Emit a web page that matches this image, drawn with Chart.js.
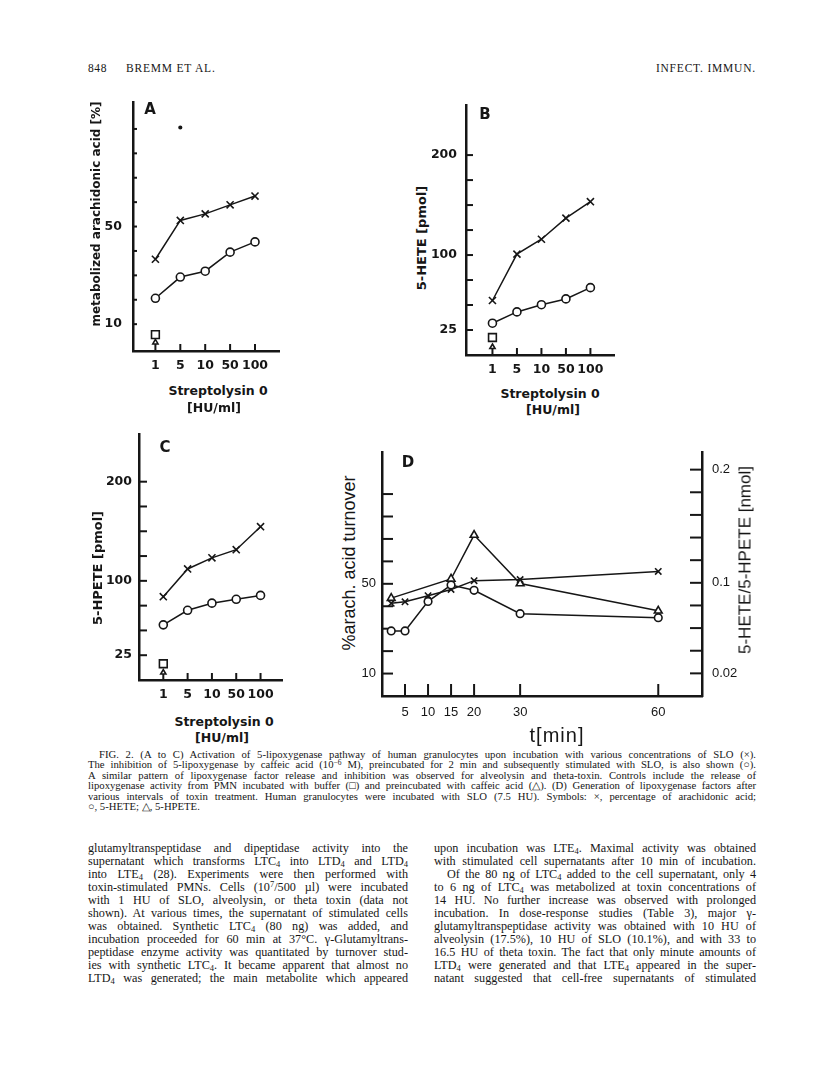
<!DOCTYPE html>
<html>
<head>
<meta charset="utf-8">
<title>Fig. 2 - 5-lipoxygenase</title>
<script src="https://cdn.jsdelivr.net/npm/chart.js@4.4.1/dist/chart.umd.min.js"></script>
<style>
  html, body { margin: 0; padding: 0; background: #fff; }
  #page { position: relative; width: 816px; height: 1082px; overflow: hidden; background: #fff; color: #161616; }
  canvas { position: absolute; }
  .txt { position: absolute; white-space: nowrap; line-height: 1; }
  .fig { font-family: "DejaVu Sans", sans-serif; font-weight: bold; font-size: 12.5px; }
  .figD { font-family: "Liberation Sans", Arial, sans-serif; }
  .mid { transform: translate(-50%, -50%); }
  .rot { transform: translate(-50%, -50%) rotate(-90deg); }
  .serif { font-family: "Liberation Serif", "Times New Roman", serif; }
  .cap { font-size: 10.7px; }
  .body { font-size: 12.2px; }
  sub, sup { font-size: 70%; line-height: 0; }
  sub { vertical-align: -0.25em; }
  sup { vertical-align: 0.45em; }
</style>
</head>
<body>
<div id="page">
  <div class="txt serif" style="left:88px;top:63px;font-size:11.5px;letter-spacing:0.6px">848</div>
  <div class="txt serif" style="left:126px;top:63px;font-size:11.5px;letter-spacing:0.8px">BREMM ET AL.</div>
  <div class="txt serif" style="right:60px;top:63px;font-size:11.5px;letter-spacing:0.8px">INFECT. IMMUN.</div>

  <canvas id="chartA" width="187" height="286" style="left:100px;top:95px"></canvas>
  <canvas id="chartB" width="192" height="287" style="left:430px;top:98px"></canvas>
  <canvas id="chartC" width="190" height="283" style="left:100px;top:427px"></canvas>
  <canvas id="chartD" width="382" height="280" style="left:360px;top:446px"></canvas>

  <!-- panel letters -->
  <div class="txt fig mid" style="left:150px;top:109px;font-size:15px">A</div>
  <div class="txt fig mid" style="left:485px;top:114px;font-size:15px">B</div>
  <div class="txt fig mid" style="left:165px;top:447px;font-size:15px">C</div>
  <div class="txt fig mid" style="left:408px;top:462px;font-size:15px">D</div>

  <!-- axis titles -->
  <div class="txt fig rot" style="left:96px;top:214px;font-size:12px">metabolized arachidonic acid [%]</div>
  <div class="txt fig mid" style="left:218px;top:391px">Streptolysin 0</div>
  <div class="txt fig mid" style="left:214px;top:408px">[HU/ml]</div>

  <div class="txt fig rot" style="left:421px;top:238px;font-size:13px">5-HETE [pmol]</div>
  <div class="txt fig mid" style="left:550px;top:394px">Streptolysin 0</div>
  <div class="txt fig mid" style="left:553px;top:410px">[HU/ml]</div>

  <div class="txt fig rot" style="left:97px;top:568px;font-size:13px">5-HPETE [pmol]</div>
  <div class="txt fig mid" style="left:224px;top:722px">Streptolysin 0</div>
  <div class="txt fig mid" style="left:222px;top:738px">[HU/ml]</div>

  <div class="txt figD rot" style="left:349px;top:563px;font-size:18px">%arach. acid turnover</div>
  <div class="txt figD rot" style="left:745px;top:560px;font-size:17px">5-HETE/5-HPETE [nmol]</div>
  <div class="txt figD mid" style="left:557px;top:735px;font-size:20px;letter-spacing:1px">t[min]</div>
</div>

<script>
// ---- data ----
const doses = ['1', '5', '10', '50', '100'];          // Streptolysin O, HU/ml
const dosePos = [1, 2, 3, 4, 5];

// A: metabolized arachidonic acid [%]
const sloA = [36.6, 52.5, 55.2, 58.9, 62.5];
const caffeicA = [20.6, 29.3, 31.7, 39.5, 43.7];
const bufferA = [5.7];
const caffeicCtrlA = [2.5];
const speckA = [90.6];   // stray dot above the 5 HU column
const ticksA = [10, 20, 30, 40, 50, 60, 70, 80, 90];
const labelsA = [10, 50];

// B: 5-HETE [pmol]
const sloB = [54.5, 100.9, 115.8, 136.9, 153.4];
const caffeicB = [31.8, 43.1, 50.3, 56.1, 67.4];
const bufferB = [17.5];
const caffeicCtrlB = [8];

// C: 5-HPETE [pmol]
const sloC = [84, 112, 123.2, 131.4, 154.6];
const caffeicC = [55.6, 70.3, 77.5, 81.4, 85.3];
const bufferC = [16.4];
const caffeicCtrlC = [7.5];

const ticksBC = [25, 50, 75, 100, 125, 150, 175, 200];
const labelsBC = [25, 100, 200];

// D: time course
const timesD = [2, 5, 10, 15, 20, 30, 60];
const arachD = [41.3, 42.0, 44.7, 47.5, 51.4, 51.9, 55.5];        // % arach. acid turnover
const heteD = [0.0575, 0.0575, 0.0836, 0.098, 0.0934, 0.0727, 0.0692]; // nmol
const hpeteTimesD = [2, 15, 20, 30, 60];
const hpeteD = [0.0865, 0.1034, 0.1422, 0.0994, 0.0753];          // nmol
const tickTimesD = [5, 10, 15, 20, 30, 60];
const ticksDLeft = [10, 20, 30, 40, 50, 60, 70, 80, 90];
const labelsDLeft = [10, 50];
const ticksDRight = [0.02, 0.04, 0.06, 0.08, 0.1, 0.12, 0.14, 0.16, 0.18, 0.2];
const labelsDRight = [0.02, 0.1, 0.2];

// ---- caption and running text ----
const captionLines = [
  'FIG. 2. (A to C) Activation of 5-lipoxygenase pathway of human granulocytes upon incubation with various concentrations of SLO (×).',
  'The inhibition of 5-lipoxygenase by caffeic acid (10<sup>−6</sup> M), preincubated for 2 min and subsequently stimulated with SLO, is also shown (○).',
  'A similar pattern of lipoxygenase factor release and inhibition was observed for alveolysin and theta-toxin. Controls include the release of',
  'lipoxygenase activity from PMN incubated with buffer (□) and preincubated with caffeic acid (△). (D) Generation of lipoxygenase factors after',
  'various intervals of toxin treatment. Human granulocytes were incubated with SLO (7.5 HU). Symbols: ×, percentage of arachidonic acid;',
  '○, 5-HETE; △, 5-HPETE.'
];
const leftLines = [
  'glutamyltranspeptidase and dipeptidase activity into the',
  'supernatant which transforms LTC<sub>4</sub> into LTD<sub>4</sub> and LTD<sub>4</sub>',
  'into LTE<sub>4</sub> (28). Experiments were then performed with',
  'toxin-stimulated PMNs. Cells (10<sup>7</sup>/500 µl) were incubated',
  'with 1 HU of SLO, alveolysin, or theta toxin (data not',
  'shown). At various times, the supernatant of stimulated cells',
  'was obtained. Synthetic LTC<sub>4</sub> (80 ng) was added, and',
  'incubation proceeded for 60 min at 37°C. γ-Glutamyltrans-',
  'peptidase enzyme activity was quantitated by turnover stud-',
  'ies with synthetic LTC<sub>4</sub>. It became apparent that almost no',
  'LTD<sub>4</sub> was generated; the main metabolite which appeared'
];
const rightLines = [
  'upon incubation was LTE<sub>4</sub>. Maximal activity was obtained',
  'with stimulated cell supernatants after 10 min of incubation.',
  'Of the 80 ng of LTC<sub>4</sub> added to the cell supernatant, only 4',
  'to 6 ng of LTC<sub>4</sub> was metabolized at toxin concentrations of',
  '14 HU. No further increase was observed with prolonged',
  'incubation. In dose-response studies (Table 3), major γ-',
  'glutamyltranspeptidase activity was obtained with 10 HU of',
  'alveolysin (17.5%), 10 HU of SLO (10.1%), and with 33 to',
  '16.5 HU of theta toxin. The fact that only minute amounts of',
  'LTD<sub>4</sub> were generated and that LTE<sub>4</sub> appeared in the super-',
  'natant suggested that cell-free supernatants of stimulated'
];

const page = document.getElementById('page');

// each printed line is placed on its own and spread to the column width
function placeLines(lines, left, width, top0, step, cls, indents, lastFree) {
  lines.forEach((html, i) => {
    const el = document.createElement('div');
    el.className = 'txt serif ' + cls;
    el.innerHTML = html;
    const ind = indents[i] || 0;
    el.style.left = (left + ind) + 'px';
    el.style.top = (top0 + i * step) + 'px';
    page.appendChild(el);
    if (lastFree.includes(i)) return;
    const natural = el.getBoundingClientRect().width;
    const gaps = (el.textContent.match(/ /g) || []).length;
    if (gaps) el.style.wordSpacing = ((width - ind - natural) / gaps) + 'px';
  });
}
placeLines(captionLines, 88, 668, 748.5, 10.5, 'cap', { 0: 11 }, [5]);
placeLines(leftLines, 88, 320, 841.5, 13, 'body', {}, []);
placeLines(rightLines, 434, 322, 841.5, 13, 'body', { 2: 13 }, []);

// ---- charts ----
const INK = '#161616';
const boldTick = { family: 'DejaVu Sans', weight: 'bold', size: 12.5 };
const plainTick = { family: 'Liberation Sans', size: 13 };

// short tick marks pointing into the plot, at the scale's own tick values
const inwardTicks = {
  id: 'inwardTicks',
  beforeDatasetsDraw(chart, args, opts) {
    const ctx = chart.ctx;
    const area = chart.chartArea;
    ctx.save();
    ctx.strokeStyle = INK;
    ctx.lineWidth = 2;
    Object.values(chart.scales).forEach(scale => {
      const len = opts[scale.id];
      if (!len) return;
      scale.ticks.forEach(t => {
        const p = scale.getPixelForValue(t.value);
        ctx.beginPath();
        if (scale.isHorizontal()) {
          ctx.moveTo(p, area.bottom);
          ctx.lineTo(p, area.bottom - len);
        } else if (scale.position === 'right') {
          ctx.moveTo(area.right, p);
          ctx.lineTo(area.right - len, p);
        } else {
          ctx.moveTo(area.left, p);
          ctx.lineTo(area.left + len, p);
        }
        ctx.stroke();
      });
    });
    ctx.restore();
  }
};
Chart.register(inwardTicks);

function xAxis(h, min, max, values, labelOf, pad, font) {
  return {
    type: 'linear', min: min, max: max, bounds: 'data',
    afterFit: s => { s.height = h; s.paddingLeft = 0; s.paddingRight = 0; },
    afterBuildTicks: s => { s.ticks = values.map(v => ({ value: v })); },
    grid: { display: false, drawTicks: false },
    border: { color: INK, width: 2.5 },
    ticks: { autoSkip: false, maxRotation: 0, minRotation: 0, padding: pad, font: font, color: INK, callback: labelOf }
  };
}

function yAxis(w, min, max, values, shown, pad, font, position) {
  return {
    type: 'linear', position: position || 'left', min: min, max: max, bounds: 'data',
    afterFit: s => { s.width = w; s.paddingTop = 0; s.paddingBottom = 0; },
    afterBuildTicks: s => { s.ticks = values.map(v => ({ value: v })); },
    grid: { display: false, drawTicks: false },
    border: { color: INK, width: 2.5 },
    ticks: { autoSkip: false, padding: pad, font: font, color: INK, callback: v => (shown.includes(v) ? String(v) : '') }
  };
}

function series(xs, ys, style, axis) {
  return Object.assign({
    data: xs.map((x, i) => ({ x: x, y: ys[i] })),
    yAxisID: axis || 'y',
    borderColor: INK, borderWidth: 1.5,
    pointBorderColor: INK, pointBackgroundColor: '#fff', pointBorderWidth: 1.6,
    clip: false, tension: 0
  }, style);
}
const CROSS = { pointStyle: 'crossRot', pointRadius: 5 };
const RING = { pointStyle: 'circle', pointRadius: 4 };
const BOX = { pointStyle: 'rect', pointRadius: 5.5, showLine: false };
const ARROW = { pointStyle: 'triangle', pointRadius: 3, showLine: false };
const TRI = { pointStyle: 'triangle', pointRadius: 4.5 };

function baseOptions(scales, ticksLen) {
  return {
    responsive: false, animation: false, devicePixelRatio: 1,
    layout: { padding: 0 },
    plugins: { legend: { display: false }, tooltip: { enabled: false }, inwardTicks: ticksLen },
    scales: scales
  };
}

const doseLabel = v => doses[v - 1];

new Chart(document.getElementById('chartA'), {
  type: 'line',
  data: {
    datasets: [
      series(dosePos, caffeicA, RING),
      series(dosePos, sloA, CROSS),
      series([1], bufferA, BOX),
      series([1], caffeicCtrlA, ARROW),
      series([2], speckA, { pointStyle: 'circle', pointRadius: 1.3, pointBackgroundColor: INK, showLine: false })
    ]
  },
  options: baseOptions({
    x: xAxis(30, 0.1, 6, dosePos, doseLabel, 7, boldTick),
    y: yAxis(33, -1, 101, ticksA, labelsA, 11, boldTick)
  }, { x: 7, y: 4 })
});

new Chart(document.getElementById('chartB'), {
  type: 'line',
  data: {
    datasets: [
      series(dosePos, caffeicB, RING),
      series(dosePos, sloB, CROSS),
      series([1], bufferB, BOX),
      series([1], caffeicCtrlB, ARROW)
    ]
  },
  options: baseOptions({
    x: xAxis(30, -0.08, 6, dosePos, doseLabel, 7, boldTick),
    y: yAxis(36, 0, 250, ticksBC, labelsBC, 9, boldTick)
  }, { x: 7, y: 7 })
});

new Chart(document.getElementById('chartC'), {
  type: 'line',
  data: {
    datasets: [
      series(dosePos, caffeicC, RING),
      series(dosePos, sloC, CROSS),
      series([1], bufferC, BOX),
      series([1], caffeicCtrlC, ARROW)
    ]
  },
  options: baseOptions({
    x: xAxis(30, 0, 5.92, dosePos, doseLabel, 7, boldTick),
    y: yAxis(39, 0, 248, ticksBC, labelsBC, 7, boldTick)
  }, { x: 7, y: 8 })
});

new Chart(document.getElementById('chartD'), {
  type: 'line',
  data: {
    datasets: [
      series(timesD, heteD, Object.assign({}, RING, { pointRadius: 3.8 }), 'y2'),
      series(hpeteTimesD, hpeteD, TRI, 'y2'),
      series(timesD, arachD, Object.assign({}, CROSS, { pointRadius: 4.5 }), 'y')
    ]
  },
  options: baseOptions({
    x: xAxis(30, 0, 69.5, tickTimesD, v => String(v), 9, plainTick),
    y: yAxis(22, 0, 108.7, ticksDLeft, labelsDLeft, 6, plainTick),
    y2: yAxis(40, 0, 0.2155, ticksDRight, labelsDRight, 10, plainTick, 'right')
  }, { x: 12, y: 11, y2: 12 })
});
</script>
</body>
</html>
